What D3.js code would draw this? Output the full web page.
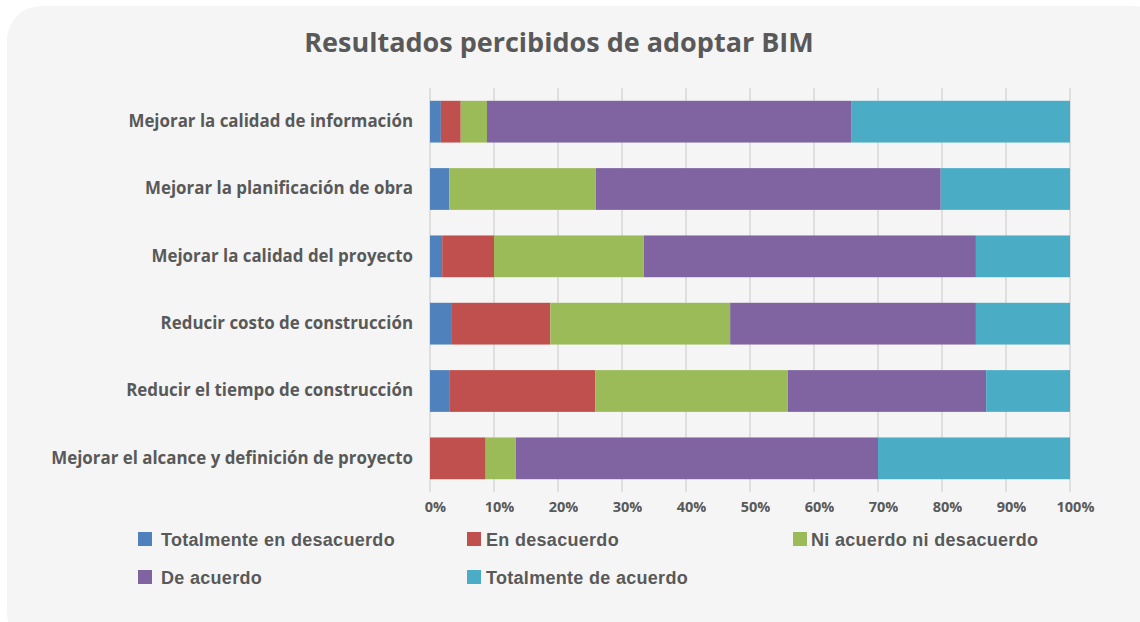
<!DOCTYPE html>
<html>
<head>
<meta charset="utf-8">
<script src="https://cdn.jsdelivr.net/npm/d3@7"></script>
<style>
  body { margin: 0; background: #ffffff; }
  svg { display: block; }
</style>
</head>
<body>
<svg width="1140" height="622"></svg>
<script>
// data (percent of answers)
const categories = [
  'Mejorar la calidad de información',
  'Mejorar la planificación de obra',
  'Mejorar la calidad del proyecto',
  'Reducir costo de construcción',
  'Reducir el tiempo de construcción',
  'Mejorar el alcance y definición de proyecto'
]
const seriesNames = [
  'Totalmente en desacuerdo',
  'En desacuerdo',
  'Ni acuerdo ni desacuerdo',
  'De acuerdo',
  'Totalmente de acuerdo'
]
const totDesacuerdo = [1.7, 3.0, 1.9, 3.3, 3.0, 0]
const enDesacuerdo = [3.1, 0, 8.1, 15.5, 22.8, 8.7]
const niAcuerdo = [4.1, 22.9, 23.4, 28.1, 30.1, 4.7]
const deAcuerdo = [56.9, 53.9, 51.9, 38.4, 31.0, 56.6]
const totAcuerdo = [34.2, 20.2, 14.7, 14.7, 13.1, 30.0]
const tickValues = [0, 10, 20, 30, 40, 50, 60, 70, 80, 90, 100]

const colors = ['#4F81BD', '#C0504D', '#9BBB59', '#8064A2', '#4BACC6']
const textColor = '#595959'

const svg = d3.select('svg')

// rounded card behind the chart
svg.append('rect')
  .attr('x', 7).attr('y', 6)
  .attr('width', 1160).attr('height', 640)
  .attr('rx', 34)
  .attr('fill', '#f5f5f5')

svg.append('text')
  .attr('x', 559).attr('y', 52)
  .attr('text-anchor', 'middle')
  .style('font-family', "'Open Sans', sans-serif")
  .style('font-weight', 'bold')
  .style('font-size', '27px')
  .attr('fill', textColor)
  .text('Resultados percibidos de adoptar BIM')

const table = categories.map((c, i) => ({
  cat: c,
  s0: totDesacuerdo[i], s1: enDesacuerdo[i], s2: niAcuerdo[i],
  s3: deAcuerdo[i], s4: totAcuerdo[i]
}))
const keys = ['s0', 's1', 's2', 's3', 's4']
const stacked = d3.stack().keys(keys)(table)

const margin = { top: 88, left: 430 }
const inner_width = 640
const inner_height = 404

const x_scale = d3.scaleLinear().domain([0, 100]).range([0, inner_width])
const y_scale = d3.scaleBand()
  .domain(categories)
  .range([0, inner_height])
  .paddingInner(0.38)
  .paddingOuter(0.19)

const g = svg.append('g')
  .attr('transform', `translate(${margin.left},${margin.top})`)

// vertical gridlines
g.append('g')
  .selectAll('line').data(tickValues)
  .enter().append('line')
  .attr('x1', d => x_scale(d)).attr('x2', d => x_scale(d))
  .attr('y1', 0).attr('y2', inner_height)
  .attr('stroke', '#d2d2d2')
  .attr('stroke-width', 1.3)

g.selectAll('g.layer').data(stacked)
  .enter().append('g')
  .attr('class', 'layer')
  .attr('fill', (d, i) => colors[i])
  .selectAll('rect').data(d => d)
  .enter().append('rect')
  .attr('x', d => x_scale(d[0]))
  .attr('y', d => y_scale(d.data.cat))
  .attr('width', d => x_scale(d[1]) - x_scale(d[0]))
  .attr('height', y_scale.bandwidth())

// category labels
const yAxis = g.append('g')
  .call(d3.axisLeft(y_scale).tickSize(0).tickPadding(17))
yAxis.select('.domain').remove()
yAxis.selectAll('text')
  .style('font-family', "'Open Sans', sans-serif")
  .style('font-weight', 'bold')
  .style('font-size', '16.9px')
  .attr('fill', textColor)

// percent axis
const xAxis = g.append('g')
  .attr('transform', `translate(0,${inner_height})`)
  .call(d3.axisBottom(x_scale).tickValues(tickValues).tickFormat(d => d + '%').tickSize(0).tickPadding(10))
xAxis.select('.domain').remove()
xAxis.selectAll('text')
  .attr('dx', 5)
  .style('font-family', "'Open Sans', sans-serif")
  .style('font-weight', 'bold')
  .style('font-size', '14.5px')
  .attr('fill', textColor)

// legend
const legendPos = [
  [138, 532], [467, 532], [793, 532],
  [138, 570], [467, 570]
]
const legendGap = [23, 19, 18, 23, 19]
const legend = svg.append('g')
  .selectAll('g').data(seriesNames)
  .enter().append('g')
  .attr('transform', (d, i) => `translate(${legendPos[i][0]},${legendPos[i][1]})`)
legend.append('rect')
  .attr('width', 14).attr('height', 14)
  .attr('fill', (d, i) => colors[i])
legend.append('text')
  .attr('x', (d, i) => legendGap[i])
  .attr('y', 14)
  .style('font-family', "'Liberation Sans', Arial, sans-serif")
  .style('font-weight', 'bold')
  .style('font-size', '18px')
  .style('letter-spacing', '0.3px')
  .attr('fill', textColor)
  .text(d => d)
</script>
</body>
</html>
